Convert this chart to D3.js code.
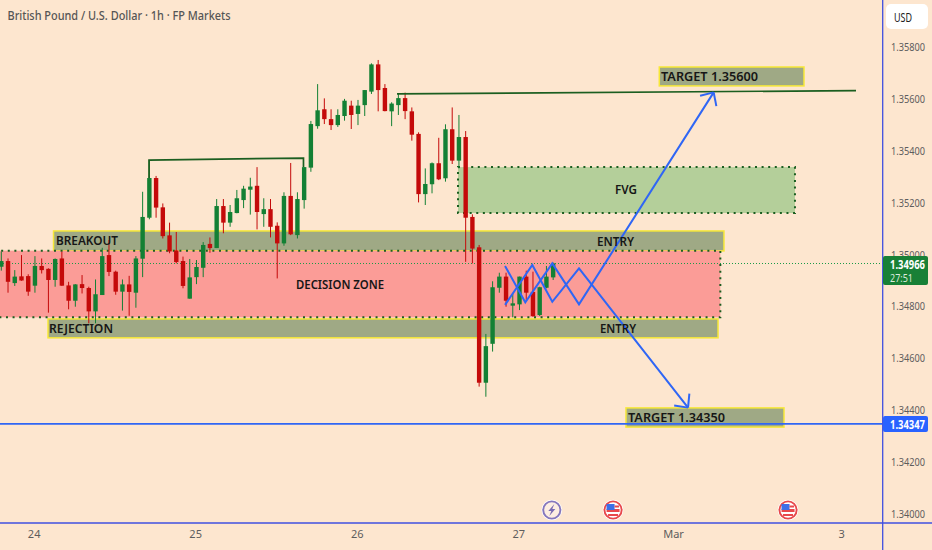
<!DOCTYPE html>
<html>
<head>
<meta charset="utf-8">
<script src="https://d3js.org/d3.v7.min.js"></script>
<style>
  html, body { margin: 0; padding: 0; background: #fde6cf; }
  svg { display: block; }
</style>
</head>
<body>
<div id="chart"></div>
<script>
const BG_COLOR = "#fde6cf";
const UP_COLOR = "#138034";
const DOWN_COLOR = "#c40a0a";
const BLUE = "#2f66f5";
const BORDER_BLUE = "#3f4fe0";
const DARK_GREEN = "#1b5e20";
const BOX_FILL = "#9fa985";
const BOX_EDGE = "#f7e838";
const AXIS_TEXT = "#5d5d5d";

// hourly GBPUSD candles, one entry per bar
const opens = [1.34953,1.34975,1.34890,1.34916,1.34917,1.34880,1.34956,1.34945,1.34902,1.34985,
  1.34881,1.34822,1.34886,1.34871,1.34781,1.34844,1.34998,1.34934,1.34857,1.34885,
  1.34853,1.34984,1.35142,1.35295,1.35182,1.35074,1.35016,1.34975,1.34830,1.34913,
  1.34949,1.35041,1.35025,1.35187,1.35123,1.35160,1.35210,1.35250,1.35265,1.35156,
  1.35175,1.35111,1.35043,1.35226,1.35075,1.35210,1.35335,1.35495,1.35560,1.35522,
  1.35499,1.35534,1.35574,1.35542,1.35576,1.35628,1.35733,1.35642,1.35552,1.35576,
  1.35603,1.35552,1.35465,1.35233,1.35271,1.35352,1.35294,1.35483,1.35362,1.35453,
  1.35145,1.35028,1.34506,1.34656,1.34872,1.34915,1.34803,1.34808,1.34915,1.34856,
  1.34767,1.34872,1.34912];
const highs = [1.35011,1.34985,1.34940,1.34998,1.34924,1.34994,1.34985,1.34947,1.34985,1.35011,
  1.34895,1.34886,1.34921,1.34876,1.34904,1.35026,1.35056,1.34938,1.34904,1.34918,
  1.34994,1.35242,1.35364,1.35303,1.35197,1.35123,1.35087,1.34992,1.34983,1.34979,
  1.35048,1.35066,1.35214,1.35214,1.35191,1.35249,1.35265,1.35296,1.35337,1.35217,
  1.35214,1.35124,1.35240,1.35353,1.35240,1.35337,1.35515,1.35657,1.35602,1.35560,
  1.35560,1.35600,1.35593,1.35596,1.35634,1.35737,1.35750,1.35657,1.35587,1.35621,
  1.35624,1.35567,1.35471,1.35332,1.35355,1.35450,1.35502,1.35567,1.35538,1.35476,
  1.35155,1.35037,1.34694,1.34897,1.34930,1.34930,1.34850,1.34915,1.34938,1.34934,
  1.34876,1.34956,1.34969];
const lows = [1.34938,1.34853,1.34879,1.34899,1.34841,1.34853,1.34927,1.34776,1.34876,1.34879,
  1.34789,1.34799,1.34850,1.34735,1.34735,1.34844,1.34917,1.34845,1.34784,1.34764,
  1.34795,1.34913,1.35136,1.35142,1.35062,1.35005,1.34966,1.34870,1.34830,1.34886,
  1.34913,1.35007,1.35025,1.35082,1.35107,1.35159,1.35179,1.35154,1.35097,1.35107,
  1.35066,1.34908,1.35034,1.35075,1.35062,1.35177,1.35319,1.35485,1.35503,1.35480,
  1.35492,1.35516,1.35484,1.35499,1.35534,1.35619,1.35552,1.35552,1.35495,1.35538,
  1.35522,1.35439,1.35201,1.35191,1.35236,1.35287,1.35281,1.35349,1.35332,1.34972,
  1.34966,1.34491,1.34452,1.34626,1.34853,1.34799,1.34758,1.34786,1.34825,1.34760,
  1.34763,1.34870,1.34902];
const closes = [1.34975,1.34895,1.34915,1.34900,1.34857,1.34956,1.34940,1.34902,1.34983,1.34880,
  1.34822,1.34885,1.34871,1.34781,1.34847,1.34994,1.34933,1.34857,1.34885,1.34856,
  1.34985,1.35145,1.35295,1.35181,1.35071,1.35012,1.34971,1.34879,1.34912,1.34952,
  1.35037,1.35025,1.35187,1.35123,1.35164,1.35217,1.35254,1.35262,1.35164,1.35175,
  1.35107,1.35043,1.35226,1.35078,1.35214,1.35337,1.35503,1.35556,1.35522,1.35499,
  1.35538,1.35593,1.35538,1.35574,1.35634,1.35733,1.35634,1.35553,1.35582,1.35603,
  1.35553,1.35462,1.35233,1.35272,1.35352,1.35290,1.35483,1.35362,1.35453,1.35142,
  1.35023,1.34506,1.34647,1.34874,1.34915,1.34822,1.34812,1.34915,1.34853,1.34763,
  1.34874,1.34915,1.34966];

const priceTicks = [1.358,1.356,1.354,1.352,1.35,1.348,1.346,1.344,1.342,1.34];
const dayTicks = [5,29,53,77,100,125];
const dayLabels = ["24","25","26","27","Mar","3"];

const LAST_PRICE = 1.34966;
const COUNTDOWN = "27:51";
const SUPPORT_PRICE = 1.34347;

// zones drawn on the chart: [barFrom, barTo, priceTop, priceBottom]
const breakoutZone = [7.76,107.38,1.35091,1.35014];
const rejectionZone = [6.94,106.5,1.34752,1.34679];
const decisionZone = [-1,106.84,1.35015,1.34758];
const fvgZone = [67.86,117.93,1.35337,1.35160];
const targetUpZone = [97.77,119.27,1.35723,1.35650];
const targetDownZone = [92.82,116.3,1.34409,1.34335];

// [bar, price] pairs for the drawn lines
const swingLine = [[21.95,1.35295],[21.95,1.35364],[44.9,1.35372],[44.9,1.35337]];
const resistanceLine = [[58.8,1.35619],[127,1.35632]];
const pathUp = [[74.85,1.34956],[77.86,1.34816],[81.87,1.34966],[85.84,1.34808],[105.85,1.35625]];
const pathDown = [[74.85,1.34806],[78.9,1.34960],[81.87,1.34818],[85.84,1.34947],[102.04,1.34410]];

const eventBars = [81.8,90.9,116.9];
const eventKinds = ["bolt","flag","flag"];

let width = 932;
let height = 550;
let plotRight = 882.7;
let plotBottom = 523;

let x = d3.scaleLinear().domain([0,100]).range([1.3,674.3]);
let y = d3.scaleLinear().domain([1.34,1.358]).range([514,47]);

let svg = d3.select("#chart").append("svg")
  .attr("width", width)
  .attr("height", height)
  .style("font-family", "'Open Sans', sans-serif");

svg.append("rect").attr("width", width).attr("height", height).attr("fill", BG_COLOR);

function zoneRect(zone, fill, stroke, strokeWidth, dash) {
  return svg.append("rect")
    .attr("x", x(zone[0]))
    .attr("y", y(zone[2]))
    .attr("width", x(zone[1]) - x(zone[0]))
    .attr("height", y(zone[3]) - y(zone[2]))
    .attr("fill", fill)
    .attr("stroke", stroke)
    .attr("stroke-width", strokeWidth)
    .attr("stroke-dasharray", dash);
}

zoneRect(breakoutZone, BOX_FILL, BOX_EDGE, 1.5, null);
zoneRect(rejectionZone, BOX_FILL, BOX_EDGE, 1.5, null);
zoneRect(decisionZone, "#fb9c97", DARK_GREEN, 2, "2,4.6");
zoneRect(fvgZone, "#b4cf9a", DARK_GREEN, 2, "2,4.6");
zoneRect(targetUpZone, BOX_FILL, BOX_EDGE, 1.5, null);
zoneRect(targetDownZone, BOX_FILL, BOX_EDGE, 1.5, null);

// current price line
svg.append("line")
  .attr("x1", 0).attr("x2", plotRight)
  .attr("y1", Math.round(y(LAST_PRICE)) + 0.5).attr("y2", Math.round(y(LAST_PRICE)) + 0.5)
  .attr("stroke", "#1a9a48")
  .attr("stroke-dasharray", "1,2");

// candles
let candles = svg.append("g").selectAll("g")
  .data(opens)
  .join("g")
  .attr("fill", (d, i) => closes[i] >= d ? UP_COLOR : DOWN_COLOR)
  .attr("stroke", (d, i) => closes[i] >= d ? UP_COLOR : DOWN_COLOR);

candles.append("line")
  .attr("x1", (d, i) => x(i)).attr("x2", (d, i) => x(i))
  .attr("y1", (d, i) => y(highs[i]))
  .attr("y2", (d, i) => y(lows[i]));

candles.append("rect")
  .attr("stroke", "none")
  .attr("x", (d, i) => x(i) - 2.2)
  .attr("width", 4.4)
  .attr("y", (d, i) => y(Math.max(d, closes[i])))
  .attr("height", (d, i) => Math.max(1, Math.abs(y(d) - y(closes[i]))));

let line = d3.line().x(d => x(d[0])).y(d => y(d[1]));

svg.append("path").attr("d", line(swingLine))
  .attr("fill", "none").attr("stroke", DARK_GREEN).attr("stroke-width", 1.7);
svg.append("path").attr("d", line(resistanceLine))
  .attr("fill", "none").attr("stroke", DARK_GREEN).attr("stroke-width", 1.7);

function drawArrowPath(points) {
  svg.append("path").attr("d", line(points))
    .attr("fill", "none").attr("stroke", BLUE).attr("stroke-width", 2);
  let a = points[points.length - 2];
  let b = points[points.length - 1];
  let ang = Math.atan2(y(a[1]) - y(b[1]), x(a[0]) - x(b[0]));
  [-0.76, 0.76].forEach(off => {
    svg.append("line")
      .attr("x1", x(b[0])).attr("y1", y(b[1]))
      .attr("x2", x(b[0]) + 14 * Math.cos(ang + off))
      .attr("y2", y(b[1]) + 14 * Math.sin(ang + off))
      .attr("stroke", BLUE).attr("stroke-width", 2);
  });
}
drawArrowPath(pathUp);
drawArrowPath(pathDown);

// support level and the frame lines
svg.append("line")
  .attr("x1", 0).attr("x2", plotRight)
  .attr("y1", y(SUPPORT_PRICE)).attr("y2", y(SUPPORT_PRICE))
  .attr("stroke", BLUE).attr("stroke-width", 1.8);
svg.append("line")
  .attr("x1", plotRight).attr("x2", plotRight)
  .attr("y1", 0).attr("y2", height)
  .attr("stroke", BORDER_BLUE).attr("stroke-width", 1.3);
svg.append("line")
  .attr("x1", 0).attr("x2", width)
  .attr("y1", plotBottom).attr("y2", plotBottom)
  .attr("stroke", BORDER_BLUE).attr("stroke-width", 1.3);

// texts squeezed to the width they have in the picture
function fitText(txt, px, py, len, size, weight, fill) {
  return svg.append("text")
    .attr("x", px).attr("y", py)
    .attr("textLength", len)
    .attr("lengthAdjust", "spacingAndGlyphs")
    .attr("font-family", "'Noto Sans', sans-serif")
    .attr("font-size", size)
    .attr("font-weight", weight)
    .attr("fill", fill)
    .text(txt);
}
function caption(txt, px, py, len) {
  fitText(txt, px, py, len, 13, 600, "#161616");
}
caption("BREAKOUT", 56, 245, 62);
caption("ENTRY", 597, 245.5, 37);
caption("DECISION ZONE", 296, 288.5, 88);
caption("REJECTION", 49, 333, 64);
caption("ENTRY", 600, 332.5, 36);
caption("FVG", 615, 193.5, 22);
caption("TARGET 1.35600", 661, 81, 97);
caption("TARGET 1.34350", 628, 422, 97);

fitText("British Pound / U.S. Dollar · 1h · FP Markets", 7.5, 20, 223, 12.5, 500, "#555");

// axes
let yAxis = svg.append("g")
  .attr("transform", "translate(891,0)")
  .call(d3.axisRight(y).tickValues(priceTicks).tickSize(0).tickPadding(0).tickFormat(d3.format(".5f")));
let xAxis = svg.append("g")
  .attr("transform", "translate(-1.3,530.5)")
  .call(d3.axisBottom(x).tickValues(dayTicks).tickSize(0).tickPadding(0).tickFormat((d, i) => dayLabels[i]));
[yAxis, xAxis].forEach(g => {
  g.select(".domain").remove();
  g.selectAll("text").attr("fill", AXIS_TEXT).attr("font-size", 11).attr("font-family", "'Noto Sans', sans-serif");
});
yAxis.selectAll("text").attr("textLength", 34).attr("lengthAdjust", "spacingAndGlyphs");

// USD button
svg.append("rect").attr("x", 886).attr("y", 4).attr("width", 42).attr("height", 25).attr("rx", 5).attr("fill", "#fff");
fitText("USD", 894, 21.5, 18, 12, 400, "#222");

// price tags on the axis
svg.append("rect").attr("x", 883).attr("y", 256).attr("width", 45).attr("height", 29).attr("rx", 2).attr("fill", "#188036");
fitText(d3.format(".5f")(LAST_PRICE), 890, 269, 35, 11.5, 700, "#fff");
fitText(COUNTDOWN, 890, 281.5, 23, 11, 400, "#dcebdc");
svg.append("rect").attr("x", 883).attr("y", 416).attr("width", 45).attr("height", 16).attr("rx", 2).attr("fill", "#2962ff");
fitText(d3.format(".5f")(SUPPORT_PRICE), 890, 428.5, 35, 11.5, 700, "#fff");

// event markers above the time axis
let events = svg.append("g").selectAll("g")
  .data(eventBars)
  .join("g")
  .attr("transform", d => "translate(" + x(d) + ",510)");

events.append("circle").attr("r", 10.3).attr("fill", "#fff");
events.append("circle").attr("r", 8.6).attr("fill", (d, i) => eventKinds[i] == "flag" ? "#fff" : "#fdeee2")
  .attr("stroke", (d, i) => eventKinds[i] == "flag" ? "#e8484c" : "#8577bd")
  .attr("stroke-width", 1.9);

events.filter((d, i) => eventKinds[i] == "bolt").append("path")
  .attr("d", "M2.5,-6 L-3.5,1 L-0.5,1 L-2.5,6 L3.5,-1 L0.5,-1 Z")
  .attr("fill", "#7a6cb3");

let flags = events.filter((d, i) => eventKinds[i] == "flag");
flags.append("rect").attr("x", -6.5).attr("y", -1).attr("width", 13).attr("height", 3).attr("fill", "#e8484c");
flags.append("rect").attr("x", -5).attr("y", 4).attr("width", 10).attr("height", 2).attr("fill", "#e8484c");
flags.append("rect").attr("x", -6.5).attr("y", -6).attr("width", 8).attr("height", 6).attr("fill", "#3d6fe8");
flags.append("rect").attr("x", 1.5).attr("y", -4.5).attr("width", 4.5).attr("height", 2).attr("fill", "#e8484c");
</script>
</body>
</html>
